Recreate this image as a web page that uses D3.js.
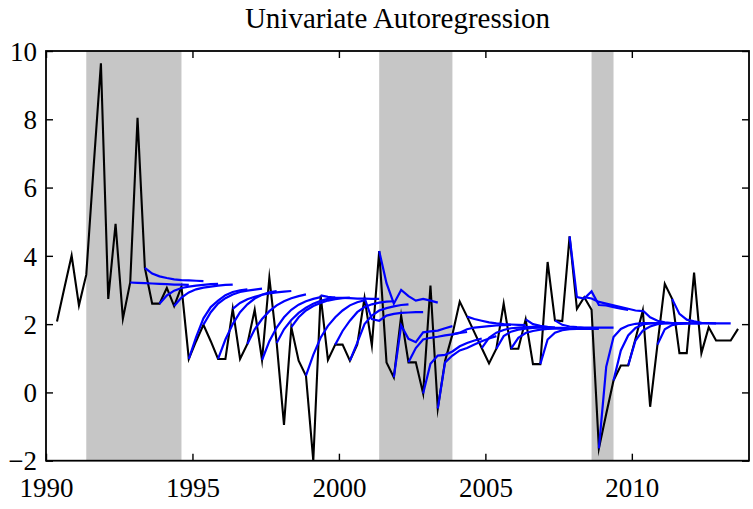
<!DOCTYPE html>
<html>
<head>
<meta charset="utf-8">
<script src="https://cdn.jsdelivr.net/npm/d3@7"></script>
<style>
  html, body { margin: 0; padding: 0; background: #fff; }
  svg { display: block; }
</style>
</head>
<body>
<svg id="chart" width="753" height="509"></svg>
<script>
// ---------------- data ----------------
const titleText = "Univariate Autoregression";
const firstQuarter = 1990.375;      // first observation (mid-quarter date)
const quarterStep = 0.25;
const actual = [
  2.08, 3.05, 4.01, 2.55, 3.45, 6.6, 9.64, 2.74, 4.94, 2.16,
  3.22, 8.04, 3.65, 2.60, 2.60, 3.06, 2.53, 3.10, 0.98, 1.50,
  1.98, 1.50, 0.98, 0.98, 2.45, 0.98, 1.42, 2.42, 0.95, 3.36,
  1.45, -0.95, 1.91, 0.93, 0.49, -2.0, 2.84, 0.95, 1.40, 1.40,
  0.93, 1.40, 2.77, 1.37, 4.14, 0.88, 0.44, 2.25, 0.88, 0.88,
  -0.03, 3.13, -0.47, 0.93, 1.70, 2.66, 2.22, 1.76, 1.30, 0.85,
  1.28, 2.60, 1.28, 1.28, 2.14, 0.83, 0.83, 3.82, 2.11, 2.09,
  4.57, 2.45, 2.79, 2.42, -1.64, -0.63, 0.35, 0.79, 0.79, 1.57,
  2.40, -0.42, 1.40, 3.18, 2.74, 1.15, 1.15, 3.51, 1.15, 1.91,
  1.52, 1.52, 1.52, 1.86
];
const forecastOrigins = [10,12,14,16,18,20,22,24,26,28,30,32,34,36,38,40,42,44,46,48,
                         50,52,54,56,58,60,62,64,66,68,70,72,74,76,78,80,82,84];
const forecastPaths = [
  [3.22, 3.21, 3.20, 3.19, 3.18, 3.17, 3.16, 3.16, 3.15],
  [3.65, 3.48, 3.40, 3.35, 3.31, 3.29, 3.28, 3.27, 3.26],
  [2.60, 2.84, 2.98, 3.06, 3.10, 3.13, 3.15, 3.17, 3.18],
  [2.53, 2.78, 2.93, 3.02, 3.07, 3.10, 3.13, 3.15, 3.16],
  [0.98, 1.62, 2.17, 2.50, 2.69, 2.85, 2.94, 2.99, 3.02],
  [1.98, 2.35, 2.60, 2.76, 2.87, 2.94, 2.98, 3.01, 3.04],
  [0.98, 1.55, 2.00, 2.35, 2.58, 2.75, 2.86, 2.93, 2.97],
  [2.45, 2.62, 2.73, 2.80, 2.86, 2.90, 2.93, 2.95, 2.97],
  [1.42, 1.85, 2.15, 2.38, 2.55, 2.67, 2.76, 2.82, 2.87],
  [0.95, 1.50, 1.90, 2.20, 2.42, 2.57, 2.67, 2.74, 2.79],
  [1.45, 1.85, 2.12, 2.33, 2.48, 2.60, 2.68, 2.74, 2.78],
  [1.91, 2.20, 2.40, 2.53, 2.62, 2.69, 2.73, 2.76, 2.78],
  [0.49, 1.10, 1.60, 1.95, 2.20, 2.40, 2.55, 2.64, 2.70],
  [2.84, 2.80, 2.78, 2.77, 2.76, 2.75, 2.75, 2.74, 2.74],
  [1.40, 1.80, 2.10, 2.35, 2.50, 2.58, 2.63, 2.66, 2.67],
  [0.93, 1.45, 2.00, 2.25, 2.40, 2.47, 2.52, 2.56, 2.58],
  [2.77, 2.15, 2.10, 2.25, 2.30, 2.33, 2.34, 2.35, 2.35],
  [4.14, 3.20, 2.60, 3.00, 2.82, 2.69, 2.74, 2.69, 2.63],
  [0.44, 1.96, 1.57, 1.47, 1.76, 1.79, 1.81, 1.88, 1.94],
  [0.88, 1.30, 1.55, 1.60, 1.63, 1.67, 1.70, 1.74, 1.77],
  [-0.03, 0.84, 1.08, 1.10, 1.20, 1.35, 1.45, 1.52, 1.58],
  [-0.47, 0.88, 1.08, 1.23, 1.30, 1.40, 1.50, 1.58, 1.65],
  [1.70, 1.75, 1.85, 1.90, 1.92, 1.94, 1.96, 1.97, 1.98],
  [2.22, 2.15, 2.10, 2.05, 2.02, 2.00, 1.99, 1.98, 1.97],
  [1.30, 1.60, 1.75, 1.83, 1.88, 1.90, 1.91, 1.92, 1.92],
  [1.28, 1.65, 1.78, 1.84, 1.87, 1.89, 1.90, 1.90, 1.90],
  [1.28, 1.60, 1.74, 1.80, 1.84, 1.86, 1.87, 1.87, 1.87],
  [2.14, 2.00, 1.95, 1.92, 1.90, 1.89, 1.88, 1.88, 1.87],
  [0.83, 1.55, 1.75, 1.82, 1.85, 1.86, 1.86, 1.86, 1.86],
  [2.11, 1.98, 1.93, 1.91, 1.90, 1.90, 1.90, 1.90, 1.90],
  [4.57, 2.79, 2.75, 2.96, 2.56, 2.55, 2.50, 2.45, 2.42],
  [2.79, 2.75, 2.65, 2.60, 2.55, 2.50, 2.45, 2.40, 2.38],
  [-1.64, 0.75, 1.62, 1.86, 1.96, 2.01, 2.03, 2.03, 2.03],
  [0.35, 1.23, 1.67, 1.89, 1.99, 2.02, 2.03, 2.03, 2.03],
  [0.79, 1.52, 1.81, 1.93, 2.00, 2.02, 2.03, 2.03, 2.03],
  [2.40, 2.20, 2.10, 2.05, 2.03, 2.02, 2.02, 2.02, 2.02],
  [1.40, 1.85, 1.97, 2.01, 2.02, 2.02, 2.02, 2.02, 2.02],
  [2.74, 2.30, 2.13, 2.08, 2.04, 2.03, 2.02, 2.02, 2.02]
];
const recessionStarts = [1991.375, 2001.375, 2008.625];
const recessionEnds   = [1994.625, 2003.875, 2009.375];
const xTicks = [1990, 1995, 2000, 2005, 2010];
const yTicks = [-2, 0, 2, 4, 6, 8, 10];
const xDomain = [1990, 2014];
const yDomain = [-2, 10];

// ---------------- layout ----------------
const SERIF = '"Liberation Serif", "Times New Roman", Times, "DejaVu Serif", serif';
const L = 46, R = 749, T = 51, B = 460.7;
const svg = d3.select("#chart");
svg.append("rect").attr("width", 753).attr("height", 509).attr("fill", "#fff");

const x = d3.scaleLinear().domain(xDomain).range([L, R]);
const y = d3.scaleLinear().domain(yDomain).range([B, T]);
const dateOf = i => firstQuarter + i * quarterStep;

const plot = svg.append("g");
plot.append("defs").append("clipPath").attr("id", "clip")
  .append("rect").attr("x", L).attr("y", T).attr("width", R - L).attr("height", B - T);

// recession shading
plot.append("g").selectAll("rect")
  .data(recessionStarts.map((s, i) => [s, recessionEnds[i]]))
  .join("rect")
  .attr("x", d => x(d[0]))
  .attr("width", d => x(d[1]) - x(d[0]))
  .attr("y", T).attr("height", B - T)
  .attr("fill", "#c6c6c6");

const line = d3.line().x(d => x(d[0])).y(d => y(d[1]));
const g = plot.append("g").attr("clip-path", "url(#clip)");

// actual series
g.append("path")
  .datum(actual.map((v, i) => [dateOf(i), v]))
  .attr("d", line)
  .attr("fill", "none").attr("stroke", "#000").attr("stroke-width", 2.1)
  .attr("stroke-linejoin", "miter").attr("stroke-miterlimit", 10);

// forecasts
g.append("g").selectAll("path")
  .data(forecastPaths.map((path, k) => path.map((v, h) => [dateOf(forecastOrigins[k] + h), v])))
  .join("path")
  .attr("d", line)
  .attr("fill", "none").attr("stroke", "#0000ff").attr("stroke-width", 2.2);

// axes box with inward ticks (both sides)
const tickLen = 7;
svg.append("rect").attr("x", L).attr("y", T).attr("width", R - L).attr("height", B - T)
  .attr("fill", "none").attr("stroke", "#000").attr("stroke-width", 1.8);

const axisBottom = d3.axisBottom(x).tickValues(xTicks).tickSizeInner(-tickLen).tickSizeOuter(0).tickFormat(d3.format("d"));
const axisTop = d3.axisTop(x).tickValues(xTicks).tickSizeInner(-tickLen).tickSizeOuter(0).tickFormat("");
const axisLeft = d3.axisLeft(y).tickValues(yTicks).tickSizeInner(-tickLen).tickSizeOuter(0)
  .tickFormat(d => d < 0 ? "\u2212" + Math.abs(d) : String(d));
const axisRight = d3.axisRight(y).tickValues(yTicks).tickSizeInner(-tickLen).tickSizeOuter(0).tickFormat("");

function styleAxis(sel) {
  sel.attr("font-family", SERIF).attr("font-size", 27);
  sel.select(".domain").remove();
  sel.selectAll("line").attr("stroke", "#000").attr("stroke-width", 1.4);
  sel.selectAll("text").attr("fill", "#000");
}
const gb = svg.append("g").attr("transform", `translate(0,${B})`).call(axisBottom).call(styleAxis);
gb.selectAll("text").attr("y", 36).attr("dy", 0);
svg.append("g").attr("transform", `translate(0,${T})`).call(axisTop).call(styleAxis);
const gl = svg.append("g").attr("transform", `translate(${L},0)`).call(axisLeft).call(styleAxis);
gl.selectAll("text").attr("x", -9).attr("dy", "0.34em");
svg.append("g").attr("transform", `translate(${R},0)`).call(axisRight).call(styleAxis);

// title
svg.append("text")
  .attr("x", (L + R) / 2).attr("y", 28)
  .attr("text-anchor", "middle")
  .attr("font-family", SERIF)
  .attr("font-size", 29)
  .attr("fill", "#000")
  .text(titleText);
</script>
</body>
</html>
